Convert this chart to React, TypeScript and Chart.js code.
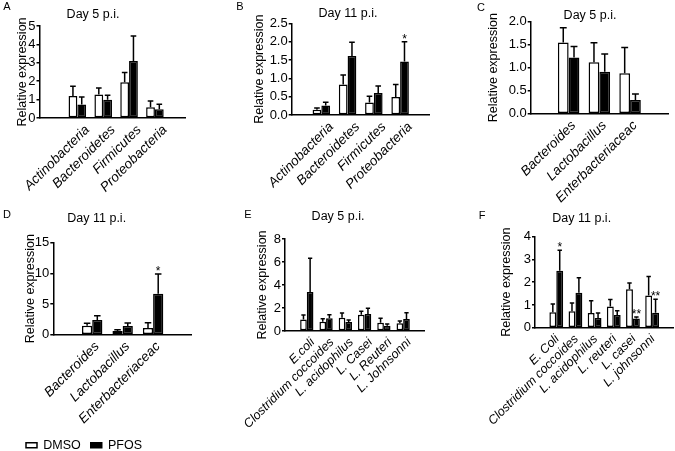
import React, { useEffect, useRef } from 'react';
import { Chart, registerables } from 'chart.js';

Chart.register(...registerables);

const FAMILY = "'Liberation Sans', Arial, Helvetica, sans-serif";
Chart.defaults.font.family = FAMILY;
Chart.defaults.color = '#000';

const PAGE_W = 675;
const PAGE_H = 451;

const seriesNames = ['DMSO', 'PFOS'];
const yTitle = 'Relative expression';

// ---------- Panel A : Day 5 p.i. (phyla)
const catsA = ['Actinobacteria', 'Bacteroidetes', 'Firmicutes', 'Proteobacteria'];
const dmsoA = [1.19, 1.28, 1.94, 0.59];
const dmsoSemA = [0.53, 0.35, 0.53, 0.34];
const pfosA = [0.73, 0.99, 3.1, 0.48];
const pfosSemA = [0.41, 0.24, 1.35, 0.27];
const sigA = ['', '', '', ''];

// ---------- Panel B : Day 11 p.i. (phyla)
const catsB = ['Actinobacteria', 'Bacteroidetes', 'Firmicutes', 'Proteobacteria'];
const dmsoB = [0.14, 0.83, 0.34, 0.49];
const dmsoSemB = [0.05, 0.26, 0.17, 0.34];
const pfosB = [0.26, 1.61, 0.6, 1.46];
const pfosSemB = [0.09, 0.37, 0.19, 0.54];
const sigB = ['', '', '', '*'];

// ---------- Panel C : Day 5 p.i. (genera)
const catsC = ['Bacteroides', 'Lactobacillus', 'Enterbacteriaceac'];
const dmsoC = [1.55, 1.12, 0.88];
const dmsoSemC = [0.32, 0.42, 0.56];
const pfosC = [1.22, 0.91, 0.3];
const pfosSemC = [0.24, 0.39, 0.13];
const sigC = ['', '', ''];

// ---------- Panel D : Day 11 p.i. (genera)
const catsD = ['Bacteroides', 'Lactobacillus', 'Enterbacteriaceac'];
const dmsoD = [1.47, 0.6, 1.09];
const dmsoSemD = [0.38, 0.22, 0.87];
const pfosD = [2.39, 1.41, 6.68];
const pfosSemD = [0.71, 0.49, 3.21];
const sigD = ['', '', '*'];

// ---------- Panel E : Day 5 p.i. (species)
const catsE = ['E.coli', 'Clostridium coccoides', 'L. acidophilus', 'L. Casei', 'L. Reuteri', 'L. Johnsonni'];
const dmsoE = [0.99, 0.81, 1.16, 1.42, 0.72, 0.67];
const dmsoSemE = [0.4, 0.26, 0.41, 0.29, 0.38, 0.2];
const pfosE = [3.39, 1.1, 0.78, 1.48, 0.46, 1.04];
const pfosSemE = [2.93, 0.32, 0.18, 0.49, 0.15, 0.55];
const sigE = ['', '', '', '', '', ''];

// ---------- Panel F : Day 11 p.i. (species)
const catsF = ['E. Coli', 'Clostridium coccoides', 'L. acidophilus', 'L. reuteri', 'L. casei', 'L. johnsonni'];
const dmsoF = [0.68, 0.72, 0.65, 0.93, 1.69, 1.41];
const dmsoSemF = [0.36, 0.37, 0.53, 0.31, 0.28, 0.84];
const pfosF = [2.5, 1.54, 0.43, 0.56, 0.4, 0.66];
const pfosSemF = [0.9, 0.66, 0.22, 0.18, 0.07, 0.59];
const sigF = ['*', '', '', '', '**', '**'];

type PanelData = {
  letter: string;
  title: string;
  cats: string[];
  dmso: number[];
  dmsoSem: number[];
  pfos: number[];
  pfosSem: number[];
  sig: string[];
  yMax: number;
  yStep: number;
  yDec: number;
};

type PanelLayout = {
  area: [number, number, number, number];
  xRange: [number, number];
  yTitleX: number;
  labelOffset: number;
  labelSize: number;
  catPct: number;
  titleAt: [number, number];
  letterAt: [number, number];
};

const panels: PanelData[] = [
  { letter: 'A', title: 'Day 5 p.i.', cats: catsA, dmso: dmsoA, dmsoSem: dmsoSemA, pfos: pfosA, pfosSem: pfosSemA, sig: sigA, yMax: 5, yStep: 1, yDec: 0 },
  { letter: 'B', title: 'Day 11 p.i.', cats: catsB, dmso: dmsoB, dmsoSem: dmsoSemB, pfos: pfosB, pfosSem: pfosSemB, sig: sigB, yMax: 2.5, yStep: 0.5, yDec: 1 },
  { letter: 'C', title: 'Day 5 p.i.', cats: catsC, dmso: dmsoC, dmsoSem: dmsoSemC, pfos: pfosC, pfosSem: pfosSemC, sig: sigC, yMax: 2, yStep: 0.5, yDec: 1 },
  { letter: 'D', title: 'Day 11 p.i.', cats: catsD, dmso: dmsoD, dmsoSem: dmsoSemD, pfos: pfosD, pfosSem: pfosSemD, sig: sigD, yMax: 15, yStep: 5, yDec: 0 },
  { letter: 'E', title: 'Day 5 p.i.', cats: catsE, dmso: dmsoE, dmsoSem: dmsoSemE, pfos: pfosE, pfosSem: pfosSemE, sig: sigE, yMax: 8, yStep: 2, yDec: 0 },
  { letter: 'F', title: 'Day 11 p.i.', cats: catsF, dmso: dmsoF, dmsoSem: dmsoSemF, pfos: pfosF, pfosSem: pfosSemF, sig: sigF, yMax: 4, yStep: 1, yDec: 0 },
];

const layouts: PanelLayout[] = [
  { area: [39.5, 26, 185, 118], xRange: [-0.76, 3.46], yTitleX: 23, labelOffset: 10, labelSize: 13.5, catPct: 0.68, titleAt: [93, 15], letterAt: [7, 7] },
  { area: [291.7, 23.3, 430, 115], xRange: [-0.47, 3.48], yTitleX: 260, labelOffset: 10, labelSize: 13.5, catPct: 0.667, titleAt: [348, 14], letterAt: [240, 7] },
  { area: [530.7, 21.7, 668, 113.7], xRange: [-0.49, 2.49], yTitleX: 494, labelOffset: 5, labelSize: 13.5, catPct: 0.7, titleAt: [590, 16], letterAt: [481, 8] },
  { area: [53.3, 242.7, 191.7, 334.7], xRange: [-0.52, 2.51], yTitleX: 31, labelOffset: 5, labelSize: 13.5, catPct: 0.67, titleAt: [96.7, 219], letterAt: [7, 215] },
  { area: [285, 239, 424, 331], xRange: [-0.53, 5.48], yTitleX: 263, labelOffset: 6, labelSize: 12.5, catPct: 0.69, titleAt: [338, 217], letterAt: [248, 215] },
  { area: [535, 236.7, 673, 327.7], xRange: [-0.51, 5.49], yTitleX: 507, labelOffset: 1, labelSize: 12.5, catPct: 0.72, titleAt: [581.7, 219], letterAt: [482, 216] },
];

const FS = 12.5;

const errorBarPlugin = {
  id: 'errorBars',
  afterDatasetsDraw(chart: any) {
    const ctx = chart.ctx;
    const yScale = chart.scales.y;
    chart.data.datasets.forEach((ds: any, di: number) => {
      if (!ds.sem) return;
      const meta = chart.getDatasetMeta(di);
      meta.data.forEach((bar: any, i: number) => {
        const v = ds.data[i].y;
        const top = yScale.getPixelForValue(v + ds.sem[i]);
        const half = bar.width * 0.32;
        ctx.save();
        ctx.strokeStyle = '#000';
        ctx.lineWidth = 1.5;
        ctx.beginPath();
        ctx.moveTo(bar.x, bar.y);
        ctx.lineTo(bar.x, top);
        ctx.moveTo(bar.x - half, top);
        ctx.lineTo(bar.x + half, top);
        ctx.stroke();
        if (ds.sig && ds.sig[i]) {
          ctx.fillStyle = '#000';
          ctx.font = `12px ${FAMILY}`;
          ctx.textAlign = 'center';
          ctx.textBaseline = 'alphabetic';
          ctx.fillText(ds.sig[i], bar.x, top + 1);
        }
        ctx.restore();
      });
    });
  },
};

const panelTextPlugin = {
  id: 'panelText',
  afterDraw(chart: any, _args: any, opts: any) {
    const ctx = chart.ctx;
    (opts.items || []).forEach((it: any) => {
      ctx.save();
      ctx.fillStyle = '#000';
      ctx.font = it.font;
      ctx.textAlign = 'center';
      ctx.textBaseline = 'middle';
      ctx.fillText(it.text, it.x, it.y);
      ctx.restore();
    });
  },
};

function PanelChart({ panel, lay }: { panel: PanelData; lay: PanelLayout }) {
  const ref = useRef<HTMLCanvasElement>(null);
  useEffect(() => {
    const [l, t, r, b] = lay.area;
    const lh = FS * 1.2;
    const padLeft = lay.yTitleX - lh / 2;
    const yWidth = l - padLeft;
    const xHeight = 100;
    const cats = panel.cats;
    const chart = new Chart(ref.current as HTMLCanvasElement, {
      type: 'bar',
      data: {
        datasets: [
          {
            label: seriesNames[0],
            data: cats.map((_, i) => ({ x: i, y: panel.dmso[i] })),
            sem: panel.dmsoSem,
            backgroundColor: '#ffffff',
            borderColor: '#000000',
            borderWidth: 1.5,
            borderSkipped: false,
            categoryPercentage: lay.catPct,
            barPercentage: 1,
          } as any,
          {
            label: seriesNames[1],
            data: cats.map((_, i) => ({ x: i, y: panel.pfos[i] })),
            sem: panel.pfosSem,
            sig: panel.sig,
            backgroundColor: '#000000',
            borderColor: '#000000',
            borderWidth: 1.5,
            borderSkipped: false,
            categoryPercentage: lay.catPct,
            barPercentage: 1,
          } as any,
        ],
      },
      options: {
        responsive: false,
        animation: false,
        events: [],
        layout: {
          padding: { left: padLeft, right: PAGE_W - r, top: t, bottom: Math.max(0, PAGE_H - b - xHeight) },
        },
        scales: {
          x: {
            type: 'linear',
            bounds: 'data',
            min: lay.xRange[0],
            max: lay.xRange[1],
            afterBuildTicks: (s: any) => {
              s.ticks = cats.map((_, i) => ({ value: i }));
            },
            afterFit: (s: any) => {
              s.height = Math.min(xHeight, PAGE_H - b);
              s.paddingLeft = 0;
              s.paddingRight = 0;
              s.paddingTop = 0;
              s.paddingBottom = 0;
            },
            ticks: {
              stepSize: 1,
              autoSkip: false,
              minRotation: 45,
              maxRotation: 45,
              labelOffset: lay.labelOffset,
              padding: 4,
              color: '#000',
              font: { family: FAMILY, size: lay.labelSize, style: 'italic' },
              callback: (_v: any, i: number) => cats[i],
            },
            grid: { display: false, drawTicks: false },
            border: { display: true, color: '#000', width: 1.5 },
          } as any,
          y: {
            type: 'linear',
            min: 0,
            max: panel.yMax,
            afterFit: (s: any) => {
              s.width = yWidth;
              s.paddingTop = 0;
              s.paddingBottom = 0;
            },
            ticks: {
              stepSize: panel.yStep,
              autoSkip: false,
              padding: 1,
              color: '#000',
              font: { family: FAMILY, size: 13 },
              callback: (v: any) => Number(v).toFixed(panel.yDec),
            },
            grid: { display: true, drawOnChartArea: false, drawTicks: true, tickLength: 3, color: '#000', lineWidth: 1.5 },
            border: { display: true, color: '#000', width: 1.5 },
            title: { display: true, text: yTitle, color: '#000', padding: 0, font: { family: FAMILY, size: FS } },
          } as any,
        },
        plugins: {
          legend: { display: false },
          tooltip: { enabled: false },
          title: { display: false },
          panelText: {
            items: [
              { text: panel.title, x: lay.titleAt[0], y: lay.titleAt[1], font: `${FS}px ${FAMILY}` },
              { text: panel.letter, x: lay.letterAt[0], y: lay.letterAt[1], font: `11px ${FAMILY}` },
            ],
          },
        } as any,
      },
      plugins: [errorBarPlugin, panelTextPlugin],
    });
    return () => chart.destroy();
  }, [panel, lay]);
  return (
    <canvas
      ref={ref}
      width={PAGE_W}
      height={PAGE_H}
      style={{ position: 'absolute', left: 0, top: 0, width: PAGE_W, height: PAGE_H }}
    />
  );
}

function LegendChart() {
  const ref = useRef<HTMLCanvasElement>(null);
  useEffect(() => {
    const chart = new Chart(ref.current as HTMLCanvasElement, {
      type: 'bar',
      data: {
        labels: [],
        datasets: [
          { label: seriesNames[0], data: [], backgroundColor: '#ffffff', borderColor: '#000000', borderWidth: 1.5 },
          { label: seriesNames[1], data: [], backgroundColor: '#000000', borderColor: '#000000', borderWidth: 1.5 },
        ],
      },
      options: {
        responsive: false,
        animation: false,
        events: [],
        layout: { padding: { left: 16 } },
        scales: { x: { display: false }, y: { display: false } },
        plugins: {
          tooltip: { enabled: false },
          legend: {
            display: true,
            position: 'top',
            align: 'start',
            labels: { boxWidth: 11, boxHeight: 5, padding: 10, color: '#000', font: { family: FAMILY, size: FS } },
          },
        },
      },
    });
    return () => chart.destroy();
  }, []);
  return (
    <canvas
      ref={ref}
      width={220}
      height={80}
      style={{ position: 'absolute', left: 0, top: 429, width: 220, height: 80 }}
    />
  );
}

export default function App() {
  return (
    <div style={{ position: 'absolute', left: 0, top: 0, width: PAGE_W, height: PAGE_H, background: '#fff', overflow: 'hidden' }}>
      {panels.map((p, i) => (
        <PanelChart key={p.letter} panel={p} lay={layouts[i]} />
      ))}
      <LegendChart />
    </div>
  );
}
